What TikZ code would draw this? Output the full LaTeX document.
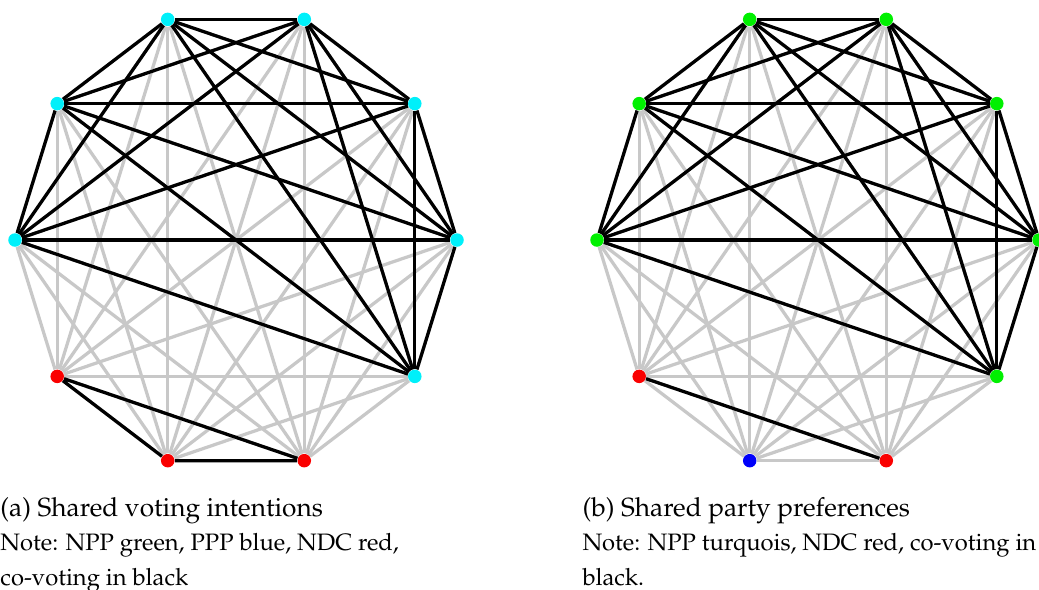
\documentclass[tikz,border=0pt]{standalone}
\usepackage[T1]{fontenc}
\usepackage{mathpazo}
\usepackage{tikz}

\definecolor{turq}{RGB}{0,240,250}
\definecolor{npp}{RGB}{0,240,0}
\definecolor{ndc}{RGB}{250,0,0}
\definecolor{ppp}{RGB}{0,0,250}
\definecolor{lightedge}{RGB}{200,200,200}

\begin{document}
\begin{tikzpicture}[x=0.4pt,y=-0.4pt,
  voter/.style={circle,inner sep=0pt,minimum size=5.4pt},
  nonvote/.style={line width=1.3pt,lightedge},
  covote/.style={line width=1.3pt,black},
  caption/.style={anchor=base west,inner sep=0pt,font=\fontsize{10.5}{14}\selectfont},
  note/.style={anchor=base west,inner sep=0pt,align=left,font=\fontsize{9.5}{14}\selectfont}]
\clip (0,0) rectangle (1039,589);

% left graph, voting intentions
\foreach \k/\col in {0/turq,1/turq,2/turq,3/turq,4/turq,5/turq,6/ndc,7/ndc,8/ndc,9/turq}
  \node [voter,fill=\col] (a\k) at ({236+221*cos(36*\k)},{240-232*sin(36*\k)}) {};

% right graph, party preferences
\foreach \k/\col in {0/npp,1/npp,2/npp,3/npp,4/npp,5/npp,6/ndc,7/ppp,8/ndc,9/npp}
  \node [voter,fill=\col] (b\k) at ({818+221*cos(36*\k)},{240-232*sin(36*\k)}) {};

% all pairs first in grey
\foreach \g in {a,b}
  \foreach \i in {0,...,8}{
    \pgfmathtruncatemacro\nxt{\i+1}
    \foreach \j in {\nxt,...,9}
      \draw [nonvote] (\g\i) -- (\g\j);
  }

% co-voting on top
\foreach \g in {a,b}
  \foreach \i in {0,1,2,3,4,5,9}
    \foreach \j in {0,1,2,3,4,5,9}{
      \ifnum\i<\j \draw [covote] (\g\i) -- (\g\j); \fi
    }
\draw [covote] (a6) -- (a7) -- (a8) -- (a6);
\draw [covote] (b6) -- (b8);

\node [caption] (capa) at (0,516) {(a) Shared voting intentions};
\node [note] (notea) at (0,585) {Note: NPP green, PPP blue, NDC red,\\co-voting in black};
\node [caption] (capb) at (582,516) {(b) Shared party preferences};
\node [note] (noteb) at (582,585) {Note: NPP turquois, NDC red, co-voting in\\black.};
\end{tikzpicture}
\end{document}
